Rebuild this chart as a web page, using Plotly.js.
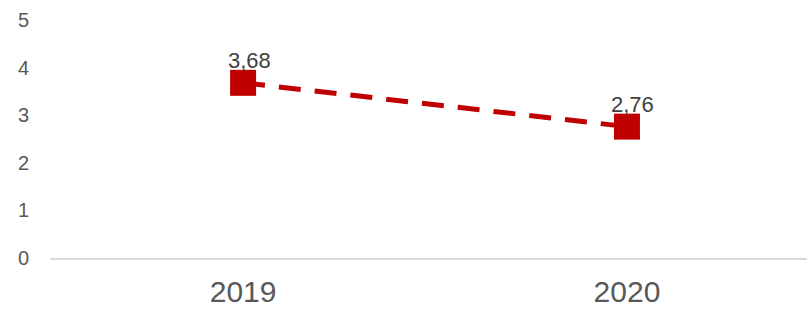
<!DOCTYPE html>
<html>
<head>
<meta charset="utf-8">
<script src="https://cdn.plot.ly/plotly-3.0.1.min.js"></script>
<style>html,body{margin:0;padding:0;background:#fff;}#chart{width:807px;height:311px;}</style>
</head>
<body>
<div id="chart"></div>
<script>
const categories = ["2019", "2020"];
const values = [3.68, 2.76];
const valueLabels = ["3,68", "2,76"];
const yTicks = [0, 1, 2, 3, 4, 5];

const trace = {
  x: categories,
  y: values,
  type: 'scatter',
  mode: 'lines+markers',
  line: {color: '#C00000', width: 5, dash: '22px,14px'},
  marker: {symbol: 'square', size: 26, color: '#C00000', line: {width: 0}},
  cliponaxis: false,
  hoverinfo: 'none'
};

const annotations = categories.map((c, i) => ({
  x: i, y: values[i], xref: 'x', yref: 'y',
  text: valueLabels[i], showarrow: false,
  xanchor: 'center', yanchor: 'bottom', yshift: 8, xshift: 6,
  font: {family: 'Liberation Sans, Arial, sans-serif', size: 22, color: '#404040'}
}));

const layout = {
  width: 807, height: 311,
  margin: {l: 50, r: 0, t: 20, b: 53},
  paper_bgcolor: '#fff', plot_bgcolor: '#fff',
  showlegend: false,
  font: {family: 'Liberation Sans, Arial, sans-serif', color: '#595959'},
  annotations: annotations,
  xaxis: {
    type: 'category',
    range: [-0.503, 1.469],
    showgrid: false, zeroline: false,
    showline: true, linecolor: '#D9D9D9', linewidth: 2,
    ticks: '', tickfont: {size: 30, color: '#595959'},
    ticklabelstandoff: 6
  },
  yaxis: {
    range: [0, 5],
    tickvals: yTicks,
    showgrid: false, zeroline: false, showline: false,
    ticks: '', tickfont: {size: 20, color: '#595959'},
    ticklabelstandoff: 20
  }
};

Plotly.newPlot('chart', [trace], layout, {staticPlot: true});
</script>
</body>
</html>
